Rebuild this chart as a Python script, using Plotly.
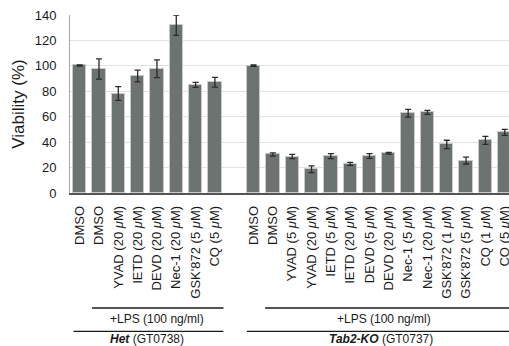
import plotly.graph_objects as go

# ---------------- data ----------------
het_labels = ["DMSO", "DMSO", "YVAD (20 <i>μ</i>M)", "IETD (20 <i>μ</i>M)", "DEVD (20 <i>μ</i>M)",
              "Nec-1 (20 <i>μ</i>M)", "GSK'872 (5 <i>μ</i>M)", "CQ (5 <i>μ</i>M)"]
het_values = [100.3, 97.5, 78.2, 92.0, 97.7, 132.0, 85.0, 87.1]
het_errors = [0.5, 8.0, 5.4, 4.6, 7.0, 8.0, 2.0, 3.8]

tab_labels = ["DMSO", "DMSO", "YVAD (5 <i>μ</i>M)", "YVAD (20 <i>μ</i>M)", "IETD (5 <i>μ</i>M)",
              "IETD (20 <i>μ</i>M)", "DEVD (5 <i>μ</i>M)", "DEVD (20 <i>μ</i>M)", "Nec-1 (5 <i>μ</i>M)",
              "Nec-1 (20 <i>μ</i>M)", "GSK'872 (1 <i>μ</i>M)", "GSK'872 (5 <i>μ</i>M)",
              "CQ (1 <i>μ</i>M)", "CQ (5 <i>μ</i>M)"]
tab_values = [100.2, 30.3, 28.7, 18.7, 29.0, 22.9, 29.1, 31.3, 62.7, 63.4, 38.2, 25.5, 41.4, 47.7]
tab_errors = [0.5, 1.3, 1.7, 2.7, 1.9, 1.2, 1.8, 0.7, 3.0, 1.6, 3.3, 2.7, 3.2, 2.3]

y_ticks = [0, 20, 40, 60, 80, 100, 120, 140]

# ---------------- layout helpers ----------------
het_x = list(range(len(het_labels)))
tab_start = len(het_labels) + 1
tab_x = [tab_start + i for i in range(len(tab_labels))]

x_all = het_x + tab_x
labels_all = het_labels + tab_labels
values_all = het_values + tab_values
errors_all = het_errors + tab_errors

BAR = "#6d7370"
FONT = "Liberation Sans, Arial, sans-serif"
x_end = 22.22

fig = go.Figure()
fig.add_trace(go.Bar(
    x=x_all, y=values_all, width=0.69,
    marker=dict(color=BAR, line=dict(color="#c9cbca", width=1)),
    error_y=dict(type="data", array=errors_all, visible=True,
                 color="#2a2a2a", thickness=1.3, width=3),
    showlegend=False,
))

fig.update_layout(
    width=509, height=346,
    margin=dict(l=70, r=0, t=15, b=153, autoexpand=False),
    paper_bgcolor="white", plot_bgcolor="white",
    font=dict(family=FONT, color="#1a1a1a", size=13),
    bargap=0,
)

fig.update_xaxes(
    range=[-0.5, x_end],
    tickmode="array", tickvals=x_all, ticktext=labels_all,
    tickangle=-90, tickfont=dict(size=13, family=FONT),
    showgrid=False, zeroline=False,
    showline=True, linecolor="#555555", linewidth=1.5,
    ticks="", ticklabelstandoff=6, ticklabeloverflow="allow",
    automargin=False,
)
fig.update_yaxes(
    range=[0, 140], tickvals=y_ticks,
    tickfont=dict(size=13, family=FONT),
    showgrid=True, gridcolor="#e2e2e2", gridwidth=1.3,
    zeroline=False, showline=True, linecolor="#a8a8a8", linewidth=1,
    ticks="", ticklabelstandoff=10,
    title=dict(text="Viability (%)", font=dict(size=17, family=FONT), standoff=5),
    automargin=False,
)

# group brackets beneath the axis
def hline(x0, x1, yp):
    fig.add_shape(type="line", xref="x", yref="paper", x0=x0, x1=x1, y0=yp, y1=yp,
                  line=dict(color="#1a1a1a", width=1.3))

y_lps = -0.646
y_grp = -0.777
hline(het_x[1] - 0.36, het_x[-1] + 0.44, y_lps)
hline(het_x[0] - 0.32, het_x[-1] + 0.44, y_grp)
hline(tab_x[1] - 0.4, x_end, y_lps)
hline(tab_x[0] - 0.35, x_end, y_grp)

def note(x, yp, text, size):
    fig.add_annotation(x=x, y=yp, xref="x", yref="paper", text=text, showarrow=False,
                       font=dict(size=size, family=FONT, color="#1a1a1a"),
                       xanchor="center", yanchor="middle")

note(4.0, -0.708, "+LPS (100 ng/ml)", 12)
note(15.75, -0.708, "+LPS (100 ng/ml)", 12)
note(3.5, -0.822, "<b><i>Het</i></b> (GT0738)", 12)
note(15.6, -0.822, "<b><i>Tab2-KO</i></b> (GT0737)", 12)

fig.write_html("out.html",
               config={"displayModeBar": False},
               post_script="document.body.style.margin='0';document.body.style.padding='0';"
                           "document.body.style.overflow='hidden';")
